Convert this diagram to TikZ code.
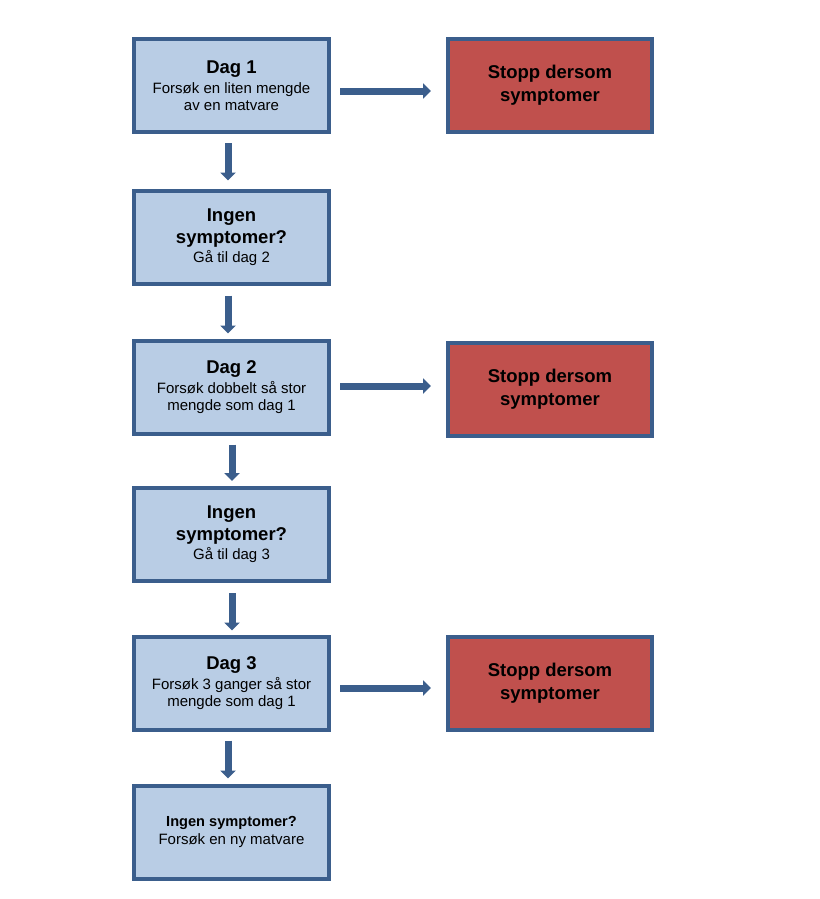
\documentclass[tikz,border=0pt]{standalone}
\usepackage{fontspec}
\setmainfont{Liberation Sans}
\usetikzlibrary{arrows.meta}
\definecolor{boxblue}{HTML}{B9CDE5}
\definecolor{edgeblue}{HTML}{3B5E8C}
\definecolor{stopred}{HTML}{C0504D}
\newcommand{\hd}[1]{{\fontsize{18.5}{17}\selectfont\bfseries #1}}
\begin{document}
\begin{tikzpicture}[x=1pt,y=-1pt,
  stepbox/.style={draw=edgeblue, line width=4pt, fill=boxblue, minimum width=195pt, minimum height=93pt, align=center, inner sep=0pt, font=\fontsize{15}{17}\selectfont},
  stopbox/.style={draw=edgeblue, line width=4pt, fill=stopred, minimum width=204pt, minimum height=93pt, align=center, inner sep=0pt, font=\fontsize{15}{17}\selectfont},
  flow/.style={draw=edgeblue, line width=7pt, -{Triangle[width=15pt,length=8pt]}}]
\useasboundingbox (0,0) rectangle (819,899);
\node[stepbox] (b1) at (231.5,85.5) {\hd{Dag 1}\\[3pt]Forsøk en liten mengde\\av en matvare};
\node[stepbox] (b2) at (231.5,237) {\hd{Ingen}\\[5pt]\hd{symptomer?}\\[2pt]Gå til dag 2};
\node[stepbox] (b3) at (231.5,387) {\hd{Dag 2}\\[3pt]Forsøk dobbelt så stor\\mengde som dag 1};
\node[stepbox] (b4) at (231.5,534.5) {\hd{Ingen}\\[5pt]\hd{symptomer?}\\[2pt]Gå til dag 3};
\node[stepbox] (b5) at (231.5,683) {\hd{Dag 3}\\[3pt]Forsøk 3 ganger så stor\\mengde som dag 1};
\node[stepbox] (b6) at (231.5,832) {{\fontsize{14.6}{17}\selectfont\bfseries Ingen symptomer?}\\[1pt]Forsøk en ny matvare};
\node[stopbox] (s1) at (550,85.5) {\hd{Stopp dersom}\\[6pt]\hd{symptomer}};
\node[stopbox] (s2) at (550,389) {\hd{Stopp dersom}\\[6pt]\hd{symptomer}};
\node[stopbox] (s3) at (550,683) {\hd{Stopp dersom}\\[6pt]\hd{symptomer}};
\draw[flow, shorten <=9pt, shorten >=8pt] ([xshift=-3.5pt]b1.south) -- ([xshift=-3.5pt]b2.north);
\draw[flow, shorten <=10pt, shorten >=5pt] ([xshift=-3.5pt]b2.south) -- ([xshift=-3.5pt]b3.north);
\draw[flow, shorten <=9pt, shorten >=5pt] ([xshift=0.5pt]b3.south) -- ([xshift=0.5pt]b4.north);
\draw[flow, shorten <=10pt, shorten >=4pt] ([xshift=0.5pt]b4.south) -- ([xshift=0.5pt]b5.north);
\draw[flow, shorten <=9pt, shorten >=5pt] ([xshift=-3.5pt]b5.south) -- ([xshift=-3.5pt]b6.north);
\draw[flow, shorten <=9pt, shorten >=15pt] ([yshift=-5.5pt]b1.east) -- ([yshift=-5.5pt]b1.east -| s1.west);
\draw[flow, shorten <=9pt, shorten >=15pt] ([yshift=1pt]b3.east) -- ([yshift=1pt]b3.east -| s2.west);
\draw[flow, shorten <=9pt, shorten >=15pt] ([yshift=-5pt]b5.east) -- ([yshift=-5pt]b5.east -| s3.west);
\end{tikzpicture}
\end{document}
